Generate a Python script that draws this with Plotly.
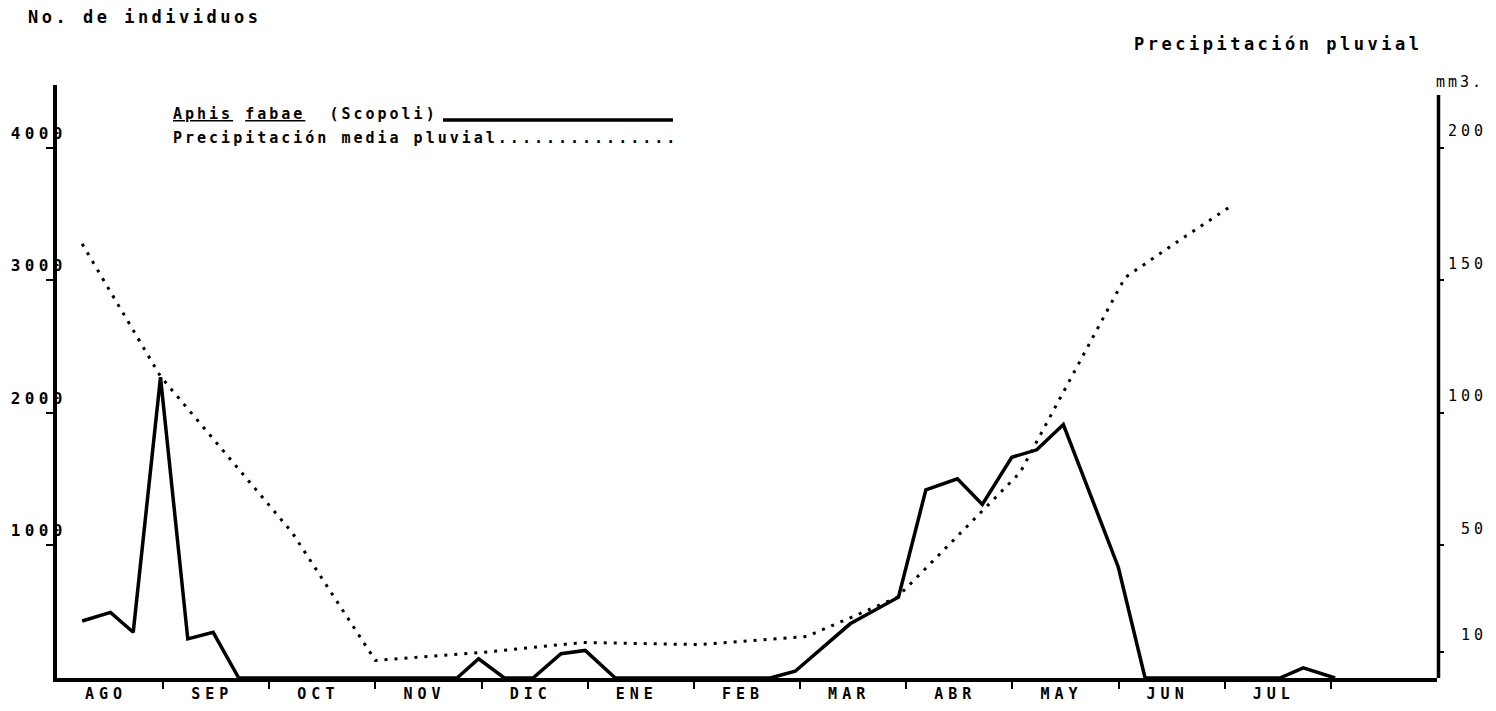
import plotly.graph_objects as go

# ---- data -------------------------------------------------------------
meses = ["AGO", "SEP", "OCT", "NOV", "DIC", "ENE", "FEB", "MAR", "ABR", "MAY", "JUN", "JUL"]

# Aphis fabae (Scopoli): sampling position (months from the start of August)
# and number of individuals counted
aphis_pos = [0.237, 0.504, 0.718, 0.975, 1.232, 1.471, 1.712,
             3.768, 3.972, 4.214, 4.484, 4.748, 4.976, 5.259,
             6.718, 6.954, 7.472, 7.927, 8.185, 8.482, 8.717, 8.994,
             9.230, 9.480, 9.998, 10.25, 11.52, 11.74, 12.04]
aphis_ind = [430, 495, 345, 2270, 295, 345, 0,
             0, 145, 0, 0, 183, 208, 0,
             0, 51, 409, 610, 1420, 1503, 1309, 1666,
             1722, 1913, 836, 0, 0, 77, 0]

# mean rainfall (mm)
precip_pos = [0.237, 0.975, 2.215, 2.999, 3.988, 4.958, 6.059,
              7.067, 7.914, 9.072, 10.061, 10.532, 11.068]
precip_mm = [163.8, 113.8, 54.9, 6.6, 9.6, 13.4, 12.6,
             15.7, 30.4, 77.5, 151.1, 164.0, 178.3]

ind_ticks = [1000, 2000, 3000, 4000]
mm_ticks = [10, 50, 100, 150, 200]

# ---- page geometry ------------------------------------------------------
W, H = 1496, 711
L, R, T, B = 57, 59, 85, 33
Y_MAX = 4475          # individuals at the top of the plotting area
MM_PER_IND = 1 / 20   # 200 mm sits level with 4000 individuals
MM_AXIS_TOP = 220     # the rainfall scale is drawn a little shorter

TW = "DejaVu Sans Mono"


def fx(p):
    return (p - L) / (W - L - R)


def fy(p):
    return (H - B - p) / (H - T - B)


def spaced(text, ls, extra=""):
    return f"<span style='letter-spacing:{ls}px;{extra}'>{text}</span>"


fig = go.Figure()

fig.add_trace(go.Scatter(
    x=aphis_pos, y=aphis_ind, mode="lines",
    line=dict(color="black", width=3.5),
    name="Aphis fabae (Scopoli)", yaxis="y",
))
fig.add_trace(go.Scatter(
    x=precip_pos, y=precip_mm, mode="lines",
    line=dict(color="black", width=3, dash="3px,7px"),
    name="Precipitación media pluvial", yaxis="y2",
))

fig.update_layout(
    width=W, height=H,
    margin=dict(l=L, r=R, t=T, b=B, pad=0, autoexpand=False),
    paper_bgcolor="white", plot_bgcolor="white",
    showlegend=False,
    font=dict(family=TW, color="black"),
    xaxis=dict(
        range=[0, 13], showgrid=False, zeroline=False, automargin=False,
        showline=True, linecolor="black", linewidth=4,
        tickmode="array",
        tickvals=[i + 0.5 for i in range(len(meses))],
        ticktext=[spaced(m, 5) for m in meses],
        ticks="", ticklabelstandoff=-1, ticklabelshift=-4,
        tickfont=dict(family=TW, size=15, weight="bold"),
        minor=dict(tickmode="array", tickvals=list(range(1, 13)),
                   ticks="outside", ticklen=7, tickwidth=2,
                   tickcolor="black", showgrid=False),
    ),
    yaxis=dict(
        range=[0, Y_MAX], showgrid=False, zeroline=False, automargin=False,
        showline=True, linecolor="black", linewidth=4,
        tickmode="array", tickvals=ind_ticks,
        ticktext=[spaced(str(v), 4.4) for v in ind_ticks],
        ticks="outside", ticklen=7, tickwidth=2, tickcolor="black",
        ticklabelshift=-15, ticklabelstandoff=-24,
        tickfont=dict(family=TW, size=16, weight="bold"),
    ),
    yaxis2=dict(
        range=[0, Y_MAX * MM_PER_IND], overlaying="y", side="right",
        showgrid=False, zeroline=False, automargin=False,
        showline=False,
        tickmode="array", tickvals=mm_ticks,
        ticktext=[spaced(str(v).rjust(3, "\u00a0"), 4) for v in mm_ticks],
        ticks="outside", ticklen=6, tickwidth=2, tickcolor="black",
        ticklabelshift=-17, ticklabelstandoff=1,
        tickfont=dict(family=TW, size=15),
    ),
)

# right-hand (rainfall) axis line, ending below the top of the frame
fig.add_shape(type="line", xref="paper", yref="y2",
              x0=1 + 1.5 / (W - L - R), x1=1 + 1.5 / (W - L - R),
              y0=0, y1=MM_AXIS_TOP,
              line=dict(color="black", width=3.5))

# axis titles
fig.add_annotation(x=fx(26), y=fy(17), xref="paper", yref="paper",
                   xanchor="left", yanchor="middle", showarrow=False,
                   text=spaced("No. de individuos", 3.5),
                   font=dict(family=TW, size=17, weight="bold"))
fig.add_annotation(x=fx(1132), y=fy(44), xref="paper", yref="paper",
                   xanchor="left", yanchor="middle", showarrow=False,
                   text=spaced("Precipitación pluvial", 3.5),
                   font=dict(family=TW, size=17, weight="bold"))
fig.add_annotation(x=fx(1434), y=fy(82), xref="paper", yref="paper",
                   xanchor="left", yanchor="middle", showarrow=False,
                   text=spaced("mm3.", 3),
                   font=dict(family=TW, size=15))

# key
fig.add_annotation(x=fx(171), y=fy(114), xref="paper", yref="paper",
                   xanchor="left", yanchor="middle", showarrow=False,
                   text=spaced("Aphis", 3, "text-decoration:underline") + spaced(" ", 3)
                   + spaced("fabae", 3, "text-decoration:underline")
                   + spaced("  (Scopoli)", 3),
                   font=dict(family=TW, size=15, weight="bold"))
fig.add_shape(type="line", xref="paper", yref="paper",
              x0=fx(443), x1=fx(673), y0=fy(120), y1=fy(120),
              line=dict(color="black", width=3.5))
fig.add_annotation(x=fx(171), y=fy(138), xref="paper", yref="paper",
                   xanchor="left", yanchor="middle", showarrow=False,
                   text=spaced("Precipitación media pluvial" + "." * 15, 3),
                   font=dict(family=TW, size=15, weight="bold"))

fig.write_html("out.html")
